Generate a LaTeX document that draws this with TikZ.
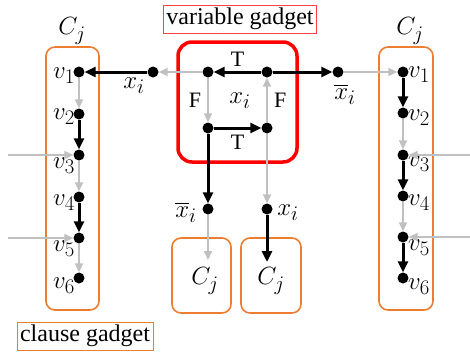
\documentclass[tikz,border=0pt]{standalone}
\usepackage{amsmath}
\usepackage{fontspec}
\setmainfont{Liberation Serif}
\usetikzlibrary{arrows.meta}
\definecolor{gadgetorange}{HTML}{ED7D31}
\definecolor{edgegray}{HTML}{C0C0C0}
\tikzset{
  dot/.style={circle,fill=black,inner sep=0pt,minimum size=11pt},
  blk/.style={draw=black,line width=3pt,-{Triangle[length=11pt,width=10pt]}},
  gry/.style={draw=edgegray,line width=2pt,-{Triangle[length=9pt,width=8pt]}},
  lbl/.style={inner sep=0pt,font=\fontsize{28}{32}\selectfont},
  tf/.style={inner sep=0pt,font=\fontsize{22}{26}\selectfont},
  clausebox/.style={draw=gadgetorange,line width=1.6pt,rounded corners=9pt},
  title/.style={inner sep=3pt,font=\fontsize{24}{28}\selectfont,line width=0.8pt}
}
\begin{document}
\begin{tikzpicture}[x=1pt,y=-1pt]
\useasboundingbox (0,0) rectangle (470,354);

% clause gadget boxes
\draw[clausebox] (46,47) rectangle (99,310);
\draw[clausebox] (379,47) rectangle (433,310);
\draw[clausebox] (172,238) rectangle (231,313);
\draw[clausebox] (241,238) rectangle (301,313);

% variable gadget box
\draw[red,line width=3.5pt,rounded corners=14pt] (178,42) rectangle (297,162);

% titles
\node[title,draw=red!75] (vt) at (240,19) {variable gadget};
\node[title,draw=gadgetorange] (ct) at (85,336) {clause gadget};

% clause labels
\node[lbl] (cl) at (72,31) {$C_j$};
\node[lbl] (cr) at (410,31) {$C_j$};
\node[lbl] (cbl) at (205,281) {$C_j$};
\node[lbl] (cbr) at (271,281) {$C_j$};
\coordinate (inl) at (208,260);
\coordinate (inr) at (267,262);

% left clause chain
\node[dot] (l1) at (79,72) {};
\node[dot] (l2) at (79,114) {};
\node[dot] (l3) at (79,155) {};
\node[dot] (l4) at (79,197) {};
\node[dot] (l5) at (79,238) {};
\node[dot] (l6) at (79,278) {};
\node[lbl,anchor=east] at (75,76) {$v_1$};
\node[lbl,anchor=east] at (75,117) {$v_2$};
\node[lbl,anchor=east] at (75,166) {$v_3$};
\node[lbl,anchor=east] at (75,203) {$v_4$};
\node[lbl,anchor=east] at (75,249) {$v_5$};
\node[lbl,anchor=east] at (75,286) {$v_6$};
\draw[gry] (l1) -- (l2);
\draw[blk] (l2) -- (l3);
\draw[gry] (l3) -- (l4);
\draw[blk] (l4) -- (l5);
\draw[gry] (l5) -- (l6);
\coordinate (l3in) at (8,155);
\coordinate (l5in) at (8,238);
\draw[gry] (l3in) -- (l3);
\draw[gry] (l5in) -- (l5);

% right clause chain
\node[dot] (r1) at (403,72) {};
\node[dot] (r2) at (403,113) {};
\node[dot] (r3) at (403,155) {};
\node[dot] (r4) at (403,196) {};
\node[dot] (r5) at (403,237) {};
\node[dot] (r6) at (403,278) {};
\node[lbl,anchor=west] at (408,75) {$v_1$};
\node[lbl,anchor=west] at (408,118) {$v_2$};
\node[lbl,anchor=west] at (408,164) {$v_3$};
\node[lbl,anchor=west] at (408,203) {$v_4$};
\node[lbl,anchor=west] at (408,248) {$v_5$};
\node[lbl,anchor=west] at (408,287) {$v_6$};
\draw[blk] (r1) -- (r2);
\draw[gry] (r2) -- (r3);
\draw[blk] (r3) -- (r4);
\draw[gry] (r4) -- (r5);
\draw[blk] (r5) -- (r6);
\coordinate (r3in) at (470,155);
\coordinate (r5in) at (470,237);
\draw[gry] (r3in) -- (r3);
\draw[gry] (r5in) -- (r5);

% variable gadget
\node[dot] (a) at (208,72) {};
\node[dot] (b) at (267,72) {};
\node[dot] (c) at (208,128) {};
\node[dot] (d) at (267,128) {};
\node[lbl] at (240,101) {$x_i$};
\draw[blk] (b) -- node[tf,above=4pt] {T} (a);
\draw[gry] (a) -- node[tf,left=6pt] {F} (c);
\draw[blk] (c) -- node[tf,below=6pt] {T} (d);
\draw[gry] (d) -- node[tf,right=6pt] {F} (b);

% literal nodes
\node[dot] (xl) at (153,72) {};
\node[lbl] at (134,86) {$x_i$};
\node[dot] (xr) at (338,72) {};
\node[lbl] at (345,94) {$\overline{x}_i$};
\node[dot] (xbl) at (208,209) {};
\node[lbl] at (186,212) {$\overline{x}_i$};
\node[dot] (xbr) at (267,209) {};
\node[lbl] at (288,213) {$x_i$};

\draw[gry] (a) -- (xl);
\draw[blk] (xl) -- (l1);
\draw[blk] (b) -- (xr);
\draw[gry] (xr) -- (r1);
\draw[blk] (c) -- (xbl);
\draw[gry] (xbl) -- (inl);
\draw[gry] (d) -- (xbr);
\draw[blk] (xbr) -- (inr);
\end{tikzpicture}
\end{document}
